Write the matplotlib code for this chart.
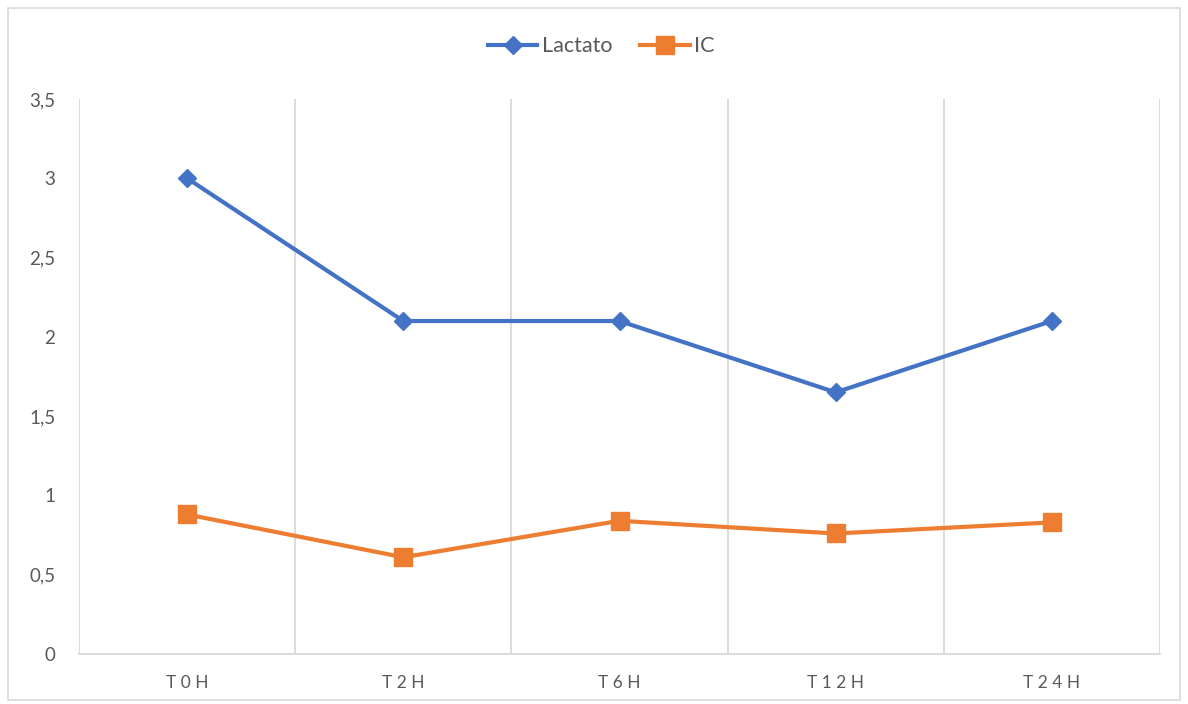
import matplotlib.pyplot as plt
from matplotlib.patches import Rectangle

# Data
categories = ["T0H", "T2H", "T6H", "T12H", "T24H"]
lactato = [3.0, 2.1, 2.1, 1.65, 2.1]
ic = [0.88, 0.61, 0.84, 0.76, 0.83]
y_ticks = [0, 0.5, 1, 1.5, 2, 2.5, 3, 3.5]
y_labels = ["0", "0,5", "1", "1,5", "2", "2,5", "3", "3,5"]

plt.rcParams['font.family'] = ['Lato', 'DejaVu Sans']

fig = plt.figure(figsize=(11.88, 7.04), dpi=100)
ax = fig.add_axes([79 / 1188, 1 - 654 / 704, (1160 - 79) / 1188, (654 - 99) / 704])

# outer chart border
fig.patches.append(Rectangle((8 / 1188, 4 / 704), 1172 / 1188, 692 / 704,
                             transform=fig.transFigure, fill=False,
                             edgecolor="#d9d9d9", linewidth=1.2))

x = list(range(len(categories)))
ax.plot(x, lactato, color="#4472C4", linewidth=3, marker="D", markersize=9.5, label="Lactato")
ax.plot(x, ic, color="#ED7D31", linewidth=3, marker="s", markersize=12.5, label="IC")

ax.set_xlim(-0.5, len(categories) - 0.5)
ax.set_ylim(0, 3.5)

# vertical gridlines at category boundaries
for b in [i - 0.5 for i in range(len(categories) + 1)]:
    ax.axvline(b, color="#d9d9d9", linewidth=1.3, zorder=0)

# Excel shows the category labels letter-spaced
ax.set_xticks(x)
ax.set_xticklabels([" ".join(c) for c in categories])
ax.set_yticks(y_ticks)
ax.set_yticklabels(y_labels)
ax.tick_params(axis="both", length=0, labelsize=13.5, labelcolor="#595959")
ax.tick_params(axis="x", pad=15, labelsize=12.5)
ax.tick_params(axis="y", pad=17)

for side in ["top", "right", "left"]:
    ax.spines[side].set_visible(False)
ax.spines["bottom"].set_color("#d9d9d9")
ax.spines["bottom"].set_linewidth(1.3)

leg = ax.legend(loc="center", bbox_to_anchor=(0.483, 1.095), ncol=2, frameon=False,
                fontsize=15.5, handlelength=2.3, columnspacing=1.3, handletextpad=0.2)
for t in leg.get_texts():
    t.set_color("#595959")

fig.savefig("out.png", dpi=100)
